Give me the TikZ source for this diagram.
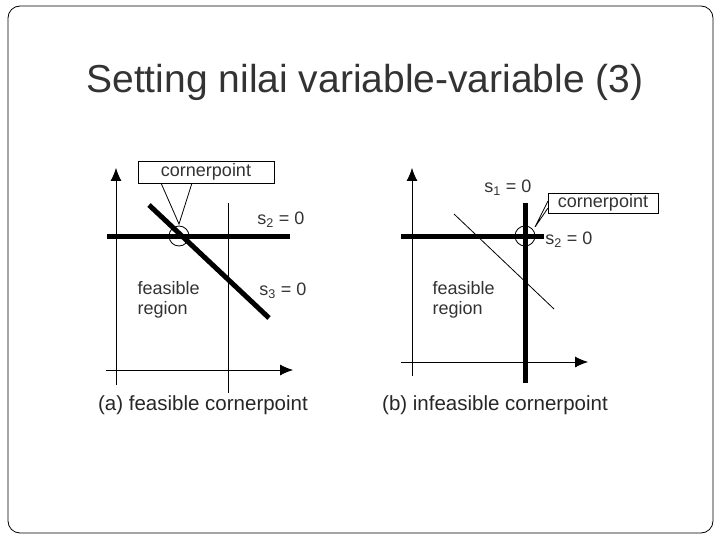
\documentclass[tikz,border=0pt]{standalone}
\usepackage{fontspec}
\setmainfont{Liberation Sans}
\usetikzlibrary{arrows.meta}
\begin{document}
\begin{tikzpicture}[x=1pt,y=-1pt,
 thin line/.style={line width=0.8pt},
 thick line/.style={line width=5pt},
 axis/.style={line width=0.8pt,-{Latex[length=13pt,width=11pt]}},
 lbl/.style={font=\fontsize{18}{20}\selectfont,text=black!80},
 captxt/.style={font=\fontsize{20.5}{23}\selectfont,text=black!85}]
\useasboundingbox (0,0) rectangle (720,540);
\draw[line width=0.8pt,rounded corners=12pt] (8,6) rectangle (713,533);
\node[font=\fontsize{39}{44}\selectfont,text=black!80] (title) at (365,82) {Setting nilai variable-variable (3)};
% panel a
\coordinate (ya0) at (116,385); \coordinate (ya1) at (116,168);
\coordinate (xa0) at (106,370); \coordinate (xa1) at (293,370);
\draw[axis] (ya0) -- (ya1);
\draw[axis] (xa0) -- (xa1);
\coordinate (va0) at (228.6,203); \coordinate (va1) at (228.6,393);
\draw[thin line] (va0) -- (va1);
\coordinate (ha0) at (107,236); \coordinate (ha1) at (290,236);
\draw[thick line] (ha0) -- (ha1);
\coordinate (da0) at (149,205); \coordinate (da1) at (269,318);
\draw[thick line] (da0) -- (da1);
\node[draw,circle,minimum size=20pt,inner sep=0pt,thin line] (ca) at (179,236) {};
\node[draw,fill=white,thin line,lbl,minimum width=136pt,minimum height=22pt,inner sep=1pt] (boxa) at (206,172) {cornerpoint};
\coordinate (pa) at (179,224);
\draw[thin line] (161,183) -- (pa) -- (192,183);
\node[lbl] (s2a) at (281,220) {s\textsubscript{2} = 0};
\node[lbl] (s3a) at (283,291) {s\textsubscript{3} = 0};
\node[lbl,align=left,anchor=west] (fa) at (134,300) {feasible\\region};
\node[captxt] (capa) at (203,405) {(a) feasible cornerpoint};
% panel b
\coordinate (yb0) at (412,376); \coordinate (yb1) at (412,168);
\coordinate (xb0) at (401,362); \coordinate (xb1) at (588,362);
\draw[axis] (yb0) -- (yb1);
\draw[axis] (xb0) -- (xb1);
\coordinate (hb0) at (401,236); \coordinate (hb1) at (546,236);
\draw[thick line] (hb0) -- (hb1);
\coordinate (vb0) at (525,203); \coordinate (vb1) at (525,383);
\draw[thick line] (vb0) -- (vb1);
\coordinate (db0) at (454,214); \coordinate (db1) at (554,309);
\draw[thin line] (db0) -- (db1);
\node[draw,circle,minimum size=20pt,inner sep=0pt,thin line] (cb) at (525,236) {};
\node[draw,fill=white,thin line,lbl,minimum width=110pt,minimum height=20pt,inner sep=1pt] (boxb) at (603,203) {cornerpoint};
\coordinate (pb) at (535,227);
\draw[thin line] (548,201) -- (pb) -- (548,208);
\node[lbl] (s1b) at (508,188) {s\textsubscript{1} = 0};
\node[lbl,fill=white,inner sep=1pt] (s2b) at (569,240) {s\textsubscript{2} = 0};
\node[lbl,align=left,anchor=west] (fb) at (429,300) {feasible\\region};
\node[captxt] (capb) at (495,405) {(b) infeasible cornerpoint};
\end{tikzpicture}
\end{document}
